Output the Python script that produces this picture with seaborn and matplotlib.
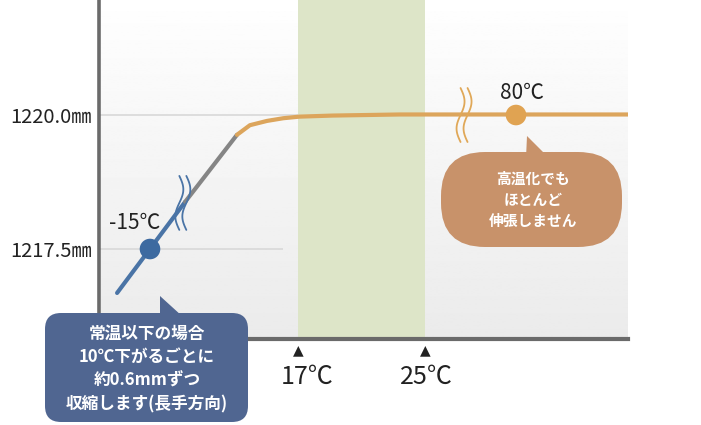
import numpy as np
import pandas as pd
import seaborn as sns
import matplotlib.pyplot as plt
import matplotlib.transforms as mtransforms
from matplotlib.patches import FancyBboxPatch, Polygon
from matplotlib.lines import Line2D

# data
line_temps = [-22.1, -7.4, 3.8, 6.6, 10.3, 13.8, 17.1, 19.2, 23.4, 100]
line_lengths = [1216.68, 1218.38, 1219.63, 1219.81, 1219.89, 1219.94, 1219.97, 1219.99, 1220.01, 1220.01]
point_temps = [-15, 80]
point_lengths = [1217.5, 1220.0]
point_labels = ['-15℃', '80℃']
band_temps = [17, 25]
band_labels = ['17℃', '25℃']
ytick_vals = [1217.5, 1220.0]
break_temps = [-7.9, 48.6]
break_lengths = [1218.36, 1220.0]

blue_note = '常温以下の場合\n10℃下がるごとに\n約0.6mmずつ\n収縮します(長手方向)'
orange_note = '高温化でも\nほとんど\n伸張しません'

# schematic (broken) temperature axis
scale_temps = [-26, -15, 17, 25, 80, 100]
scale_pos = [0, 51, 199, 326, 417, 529]

sns.set_theme(style='white')
plt.rcParams['font.family'] = ['Noto Sans CJK JP', 'DejaVu Sans']

BLUE = '#4a74a6'
GRAY = '#858585'
ORANGE = '#dca55c'
DARK = '#222222'

# split line into coloured parts
rows = []
for i, (t, v) in enumerate(zip(line_temps, line_lengths)):
    if i <= 1:
        rows.append((t, v, 'cold'))
    if 1 <= i <= 2:
        rows.append((t, v, 'mid'))
    if i >= 2:
        rows.append((t, v, 'warm'))
df = pd.DataFrame(rows, columns=['temp', 'length', 'part'])
pts = pd.DataFrame({'temp': point_temps, 'length': point_lengths, 'kind': ['cold', 'warm']})

fig = plt.figure(figsize=(7.01, 4.25), dpi=100)
ax = fig.add_axes([99 / 701, 86 / 425, 529 / 701, 339 / 425])

# background gradient + comfort band
grad = np.linspace(0.92, 0.995, 256).reshape(-1, 1)
ax.imshow(grad, cmap='gray', vmin=0, vmax=1, aspect='auto', origin='lower',
          extent=(0.004, 1, 0, 0.965), transform=ax.transAxes, zorder=0)
ax.axvspan(band_temps[0], band_temps[1], color='#dde5c8', zorder=1, lw=0)
ax.hlines(ytick_vals[0], -26, 13.8, color='#d8d8d8', lw=1.2, zorder=1)
ax.hlines(ytick_vals[1], -26, 17, color='#d8d8d8', lw=1.2, zorder=1)

sns.lineplot(data=df, x='temp', y='length', hue='part', sort=False,
             palette={'cold': BLUE, 'mid': GRAY, 'warm': ORANGE},
             lw=3, legend=False, ax=ax, zorder=3)
sns.scatterplot(data=pts, x='temp', y='length', hue='kind',
                palette={'cold': '#3d6aa0', 'warm': '#e0a352'},
                s=220, linewidth=0, legend=False, ax=ax, zorder=4)

ax.set_xscale('function', functions=(lambda x: np.interp(x, scale_temps, scale_pos),
                                     lambda p: np.interp(p, scale_pos, scale_temps)))
ax.set_xlim(-26, 100)
ax.set_ylim(1215.821, 1222.146)
ax.set_xlabel('')
ax.set_ylabel('')
ax.set_xticks([])
ax.set_yticks(ytick_vals)
ax.set_yticklabels([f'{v:.1f}㎜' for v in ytick_vals])
ax.tick_params(axis='y', length=0, pad=5, labelsize=14.5, labelcolor=DARK)
for side in ['top', 'right']:
    ax.spines[side].set_visible(False)
ax.spines['left'].set_linewidth(2.6)
ax.spines['bottom'].set_linewidth(3)
ax.spines['left'].set_color('#6a6a6a')
ax.spines['bottom'].set_color('#6a6a6a')

# point labels
ax.annotate(point_labels[0], (point_temps[0], point_lengths[0]), xytext=(-11, 19),
            textcoords='offset points', ha='center', va='center', fontsize=15, color=DARK)
ax.annotate(point_labels[1], (point_temps[1], point_lengths[1]), xytext=(4, 16),
            textcoords='offset points', ha='center', va='center', fontsize=15, color=DARK)

# band markers below axis
blend = mtransforms.blended_transform_factory(ax.transData, ax.transAxes)
for t, lab in zip(band_temps, band_labels):
    ax.text(t, -0.033, '▲', transform=blend, ha='center', va='center',
            fontsize=10, family='DejaVu Sans', color=DARK, clip_on=False)
    ax.text(t + 0.6, -0.112, lab, transform=blend, ha='center', va='center',
            fontsize=18, color=DARK, clip_on=False)

# break marks (wavy double strokes) in pixels
ident = mtransforms.IdentityTransform()
s = np.linspace(0, 1, 40)
for t, v, c in zip(break_temps, break_lengths, [BLUE, '#e0a858']):
    cx, cy = ax.transData.transform((t, v))
    for off in (-3.5, 3.5):
        fig.add_artist(Line2D(cx + off + 4 * np.sin(2 * np.pi * s), cy + 27 - 54 * s,
                              color=c, lw=1.3, transform=ident, zorder=6))

# speech bubbles (image pixels -> display pixels)
H = 425


def bubble(x0, y0, x1, y1, r, tip, base, color, text, fsize, tx, ty):
    fig.add_artist(FancyBboxPatch((x0, H - y1), x1 - x0, y1 - y0,
                                  boxstyle=f'round,pad=0,rounding_size={r}',
                                  fc=color, ec='none', transform=ident, zorder=7))
    poly = [(tip[0], H - tip[1])] + [(bx, H - by) for bx, by in base]
    fig.add_artist(Polygon(poly, closed=True, fc=color, ec='none', transform=ident, zorder=7))
    fig.text(tx, H - ty, text, transform=ident, ha='center', va='center', color='white',
             fontsize=fsize, fontweight='bold', linespacing=1.4, zorder=8)


bubble(45, 313, 248, 422, 16, (160, 296), [(160, 316), (182, 316)], '#506691',
       blue_note, 12, 147, 369)
bubble(441, 152, 622, 247, 44, (527, 136), [(526, 158), (549, 158)], '#c8926a',
       orange_note, 10.6, 533, 200)

fig.savefig('out.png', dpi=100, facecolor='white')
